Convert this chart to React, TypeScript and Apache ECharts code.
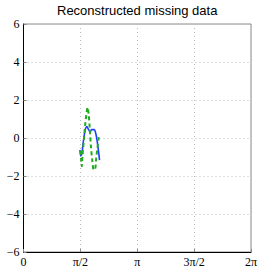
import React, { useEffect, useRef } from "react";
import * as echarts from "echarts";

const titleText = "Reconstructed missing data";
const xTickLabels = ["0", "π/2", "π", "3π/2", "2π"];
const yTicks = [-6, -4, -2, 0, 2, 4, 6];

const blueX = [1.56, 1.58, 1.61, 1.65, 1.70, 1.75, 1.79, 1.84, 1.88, 1.95, 2.0, 2.04, 2.08, 2.10];
const blueY = [-0.63, -0.93, -0.84, -0.23, 0.39, 0.6, 0.47, 0.33, 0.44, 0.44, 0.21, -0.23, -0.84, -1.16];

const greenX = [1.58, 1.59, 1.61, 1.63, 1.67, 1.71, 1.75, 1.77, 1.80, 1.83, 1.86, 1.90, 1.94, 1.98, 2.01, 2.05, 2.08];
const greenY = [-0.67, -1.1, -1.49, -0.93, -0.05, 0.82, 1.44, 1.61, 1.26, 0.47, -0.4, -1.19, -1.68, -1.63, -1.02, -0.4, 0.04];

export default function App() {
  const ref = useRef<HTMLDivElement>(null);
  useEffect(() => {
    if (!ref.current) return;
    const chart = echarts.init(ref.current, null, { renderer: "svg" });
    const half = Math.PI / 2;
    chart.setOption({
      animation: false,
      graphic: [
        {
          type: "text",
          left: 57,
          top: 4,
          style: {
            text: titleText,
            fontFamily: "Liberation Sans",
            fontSize: 13,
            fill: "#000",
          },
        },
      ],
      grid: {
        left: 23.5,
        right: 11,
        top: 24,
        bottom: 21,
        show: true,
        borderColor: "#888",
        borderWidth: 1,
      },
      xAxis: {
        type: "value",
        min: 0,
        max: 2 * Math.PI,
        interval: half,
        axisLine: { show: true, onZero: false, lineStyle: { color: "#000", width: 1 } },
        axisTick: { show: true, inside: true, length: 3, lineStyle: { color: "#888" } },
        splitLine: { show: true, lineStyle: { type: [1, 3], color: "#bbb", width: 1 } },
        axisLabel: {
          fontFamily: "Liberation Serif",
          fontSize: 12,
          color: "#000",
          margin: 4,
          formatter: (v: number) => xTickLabels[Math.round(v / half)] ?? "",
        },
      },
      yAxis: {
        type: "value",
        min: yTicks[0],
        max: yTicks[yTicks.length - 1],
        interval: 2,
        axisLine: { show: true, lineStyle: { color: "#000", width: 1 } },
        axisTick: { show: true, inside: true, length: 3, lineStyle: { color: "#888" } },
        splitLine: { show: true, lineStyle: { type: [1, 3], color: "#bbb", width: 1 } },
        axisLabel: {
          fontFamily: "Liberation Serif",
          fontSize: 12,
          color: "#000",
          margin: 4,
          formatter: (v: number) => (v < 0 ? "−" + Math.abs(v) : String(v)),
        },
      },
      series: [
        {
          type: "line",
          data: blueX.map((x, i) => [x, blueY[i]]),
          showSymbol: false,
          smooth: 0.3,
          lineStyle: { color: "#1f3fff", width: 1.6 },
        },
        {
          type: "line",
          data: greenX.map((x, i) => [x, greenY[i]]),
          showSymbol: false,
          smooth: 0.3,
          lineStyle: { color: "#22aa22", width: 2, type: [4, 3] },
        },
      ],
    });
    return () => chart.dispose();
  }, []);
  return (
    <div
      ref={ref}
      style={{ position: "fixed", left: 0, top: 0, width: 262, height: 273, background: "#fff" }}
    />
  );
}
